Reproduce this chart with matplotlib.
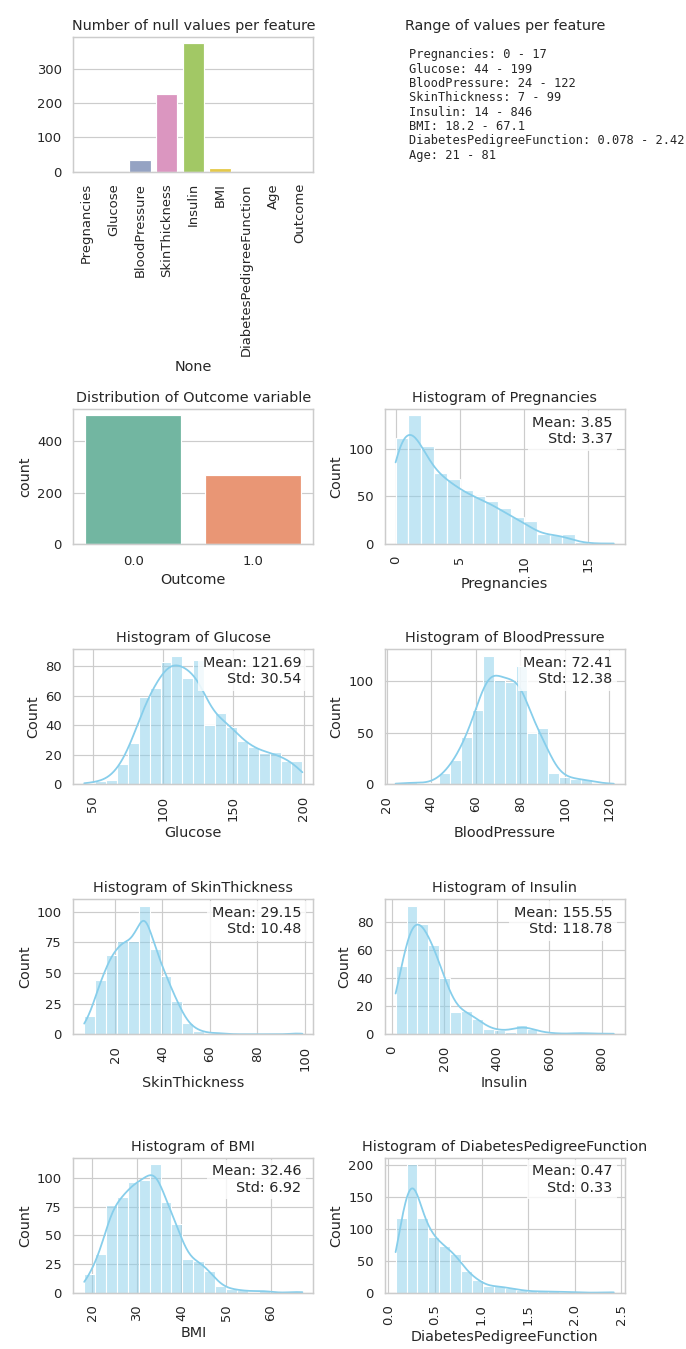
import numpy as np
import seaborn as sns
from matplotlib import pyplot as plt


# null counts per column
features = ['Pregnancies', 'Glucose', 'BloodPressure', 'SkinThickness', 'Insulin',
            'BMI', 'DiabetesPedigreeFunction', 'Age', 'Outcome']
null_counts = [0, 0, 35, 227, 374, 11, 0, 0, 0]

# min / max per column (for the text panel)
range_names = features[:-1]
range_min = ['0', '44', '24', '7', '14', '18.2', '0.078', '21']
range_max = ['17', '199', '122', '99', '846', '67.1', '2.42', '81']

# outcome classes
outcome_labels = ['0.0', '1.0']
outcome_counts = [500, 268]

# pregnancies is integer data, kept as value counts
preg_values = [0, 1, 2, 3, 4, 5, 6, 7, 8, 9, 10, 11, 12, 13, 14, 15, 17]
preg_counts = [111, 135, 103, 75, 68, 57, 50, 45, 38, 28, 24, 11, 9, 10, 2, 1, 1]

# the other histograms: 20 bins between min and max
hist_names = ['Glucose', 'BloodPressure', 'SkinThickness', 'Insulin',
              'BMI', 'DiabetesPedigreeFunction']
hist_lo = [44, 24, 7, 14, 18.2, 0.078]
hist_hi = [199, 122, 99, 846, 67.1, 2.42]
glucose_counts = [1, 2, 3, 14, 28, 59, 65, 83, 87, 72, 84, 40, 48, 39, 29, 25, 21, 22, 16, 16]
bp_counts = [1, 2, 1, 1, 11, 24, 46, 72, 125, 101, 99, 115, 50, 55, 11, 7, 5, 5, 1, 1]
skin_counts = [15, 44, 65, 76, 76, 105, 70, 48, 27, 9, 3, 1, 1, 0, 0, 0, 0, 0, 0, 1]
insulin_counts = [49, 92, 79, 64, 40, 16, 17, 11, 4, 3, 2, 7, 4, 1, 1, 0, 1, 1, 0, 1]
bmi_counts = [16, 34, 76, 83, 96, 98, 112, 79, 60, 29, 28, 19, 6, 3, 2, 1, 2, 0, 0, 1]
dpf_counts = [117, 201, 117, 87, 73, 60, 34, 20, 10, 10, 7, 4, 2, 2, 2, 1, 1, 0, 0, 1]
hist_counts = [glucose_counts, bp_counts, skin_counts, insulin_counts, bmi_counts, dpf_counts]

# mean / std shown in the boxes (Pregnancies first)
stat_names = ['Pregnancies'] + hist_names
stat_mean = [3.85, 121.69, 72.41, 29.15, 155.55, 32.46, 0.47]
stat_std = [3.37, 30.54, 12.38, 10.48, 118.78, 6.92, 0.33]


DPI = 86
W, H = 686, 1349

# kde smoothing per histogram (the binned sample is lumpier than the raw data)
kde_adjust = [1.0, 1.4, 1.0, 1.0, 1.0, 1.0]


def place(ax, row, col):
    # axes box in pixels, taken from the reference layout
    tops = [36.7, 409, 649.3, 899.3, 1157.7]
    lefts = [73.3, 384.7]
    w, h = 240, 135
    ax.set_position([lefts[col] / W, 1 - (tops[row] + h) / H, w / W, h / H])


def stat_box(ax, i):
    ax.text(0.95, 0.95, f'Mean: {stat_mean[i]:.2f}\nStd: {stat_std[i]:.2f}',
            transform=ax.transAxes, ha='right', va='top', fontsize=12,
            bbox=dict(facecolor='white', edgecolor='none', alpha=0.8))


sns.set_theme(style='whitegrid')

fig, axes = plt.subplots(5, 2, figsize=(W / DPI, H / DPI), dpi=DPI)
for r in range(5):
    for c in range(2):
        place(axes[r, c], r, c)

# null values
ax = axes[0, 0]
sns.barplot(x=features, y=null_counts, hue=features, palette='Set2', legend=False, ax=ax)
ax.set_title('Number of null values per feature')
ax.set_xlabel('None')
ax.tick_params(axis='x', rotation=90)

# value ranges
ax = axes[0, 1]
ax.axis('off')
ax.set_title('Range of values per feature')
lines = [f'{n}: {lo} - {hi}' for n, lo, hi in zip(range_names, range_min, range_max)]
ax.text(0.1, 0.915, '\n'.join(lines), transform=ax.transAxes, va='top',
        family='monospace', fontsize=10, linespacing=1.135)

# outcome
ax = axes[1, 0]
sns.barplot(x=outcome_labels, y=outcome_counts, hue=outcome_labels, palette='Set2',
            legend=False, ax=ax)
ax.set_title('Distribution of Outcome variable')
ax.set_xlabel('Outcome')
ax.set_ylabel('count')

# pregnancies histogram
ax = axes[1, 1]
preg_sample = np.repeat(preg_values, preg_counts)
sns.histplot(x=preg_sample, bins=np.linspace(0, 17, 18), kde=True, color='skyblue',
             kde_kws=dict(cut=3, clip=(0, 17)), ax=ax)
ax.set_title('Histogram of Pregnancies')
ax.set_xlabel('Pregnancies')
ax.tick_params(axis='x', rotation=90)
stat_box(ax, 0)

# remaining histograms
slots = [(2, 0), (2, 1), (3, 0), (3, 1), (4, 0), (4, 1)]
for i, name in enumerate(hist_names):
    ax = axes[slots[i]]
    edges = np.linspace(hist_lo[i], hist_hi[i], len(hist_counts[i]) + 1)
    centers = (edges[:-1] + edges[1:]) / 2
    sample = np.repeat(centers, hist_counts[i])
    sns.histplot(x=sample, bins=edges, kde=True, color='skyblue',
                 kde_kws=dict(cut=3, clip=(hist_lo[i], hist_hi[i]), bw_adjust=kde_adjust[i]),
                 ax=ax)
    ax.set_title(f'Histogram of {name}')
    ax.set_xlabel(name)
    ax.tick_params(axis='x', rotation=90)
    stat_box(ax, i + 1)

fig.savefig('out.png', dpi=DPI)
